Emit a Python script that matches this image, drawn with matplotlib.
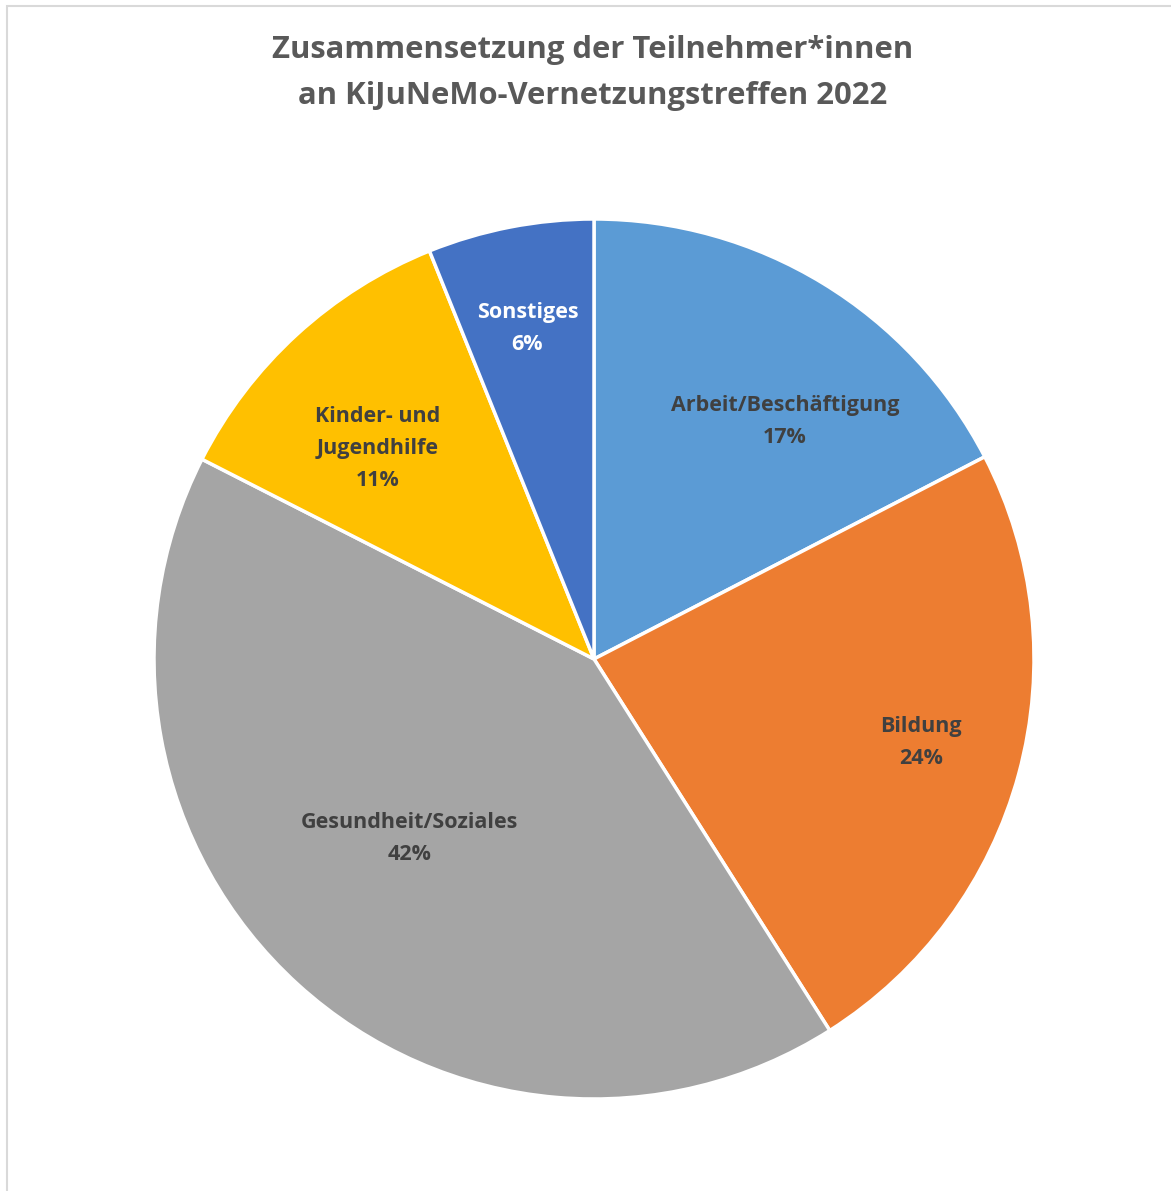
import matplotlib.pyplot as plt
from matplotlib.patches import Rectangle
import numpy as np

# data
categories = ['Arbeit/Beschäftigung', 'Bildung', 'Gesundheit/Soziales',
              'Kinder- und\nJugendhilfe', 'Sonstiges']
shares = [17.4, 23.6, 41.5, 11.4, 6.1]
pct_labels = ['17%', '24%', '42%', '11%', '6%']

colors = ['#5B9BD5', '#ED7D31', '#A5A5A5', '#FFC000', '#4472C4']
text_colors = ['#404040', '#404040', '#404040', '#404040', '#FFFFFF']
# label placement (radius fraction, angle shift from the wedge middle in degrees)
label_r = [0.692, 0.767, 0.585, 0.685, 0.767]
label_dtheta = [-7.5, 0.8, -3.6, 3.3, 0.4]

plt.rcParams['font.family'] = ['Open Sans', 'DejaVu Sans']

W, H = 1171, 1191
fig = plt.figure(figsize=(W / 100, H / 100), dpi=100)
fig.patch.set_facecolor('white')

# chart frame
fig.add_artist(Rectangle((7 / W, -0.01), 1.05, 1 - 6 / H + 0.01,
                         transform=fig.transFigure, fill=False,
                         edgecolor='#D9D9D9', linewidth=1.5))

cx, cy, r = 594, 659, 440
ax = fig.add_axes([(cx - r) / W, (H - cy - r) / H, 2 * r / W, 2 * r / H])
wedges, _ = ax.pie(shares, colors=colors, startangle=90, counterclock=False,
                   radius=1, wedgeprops=dict(edgecolor='white', linewidth=2.5))
ax.set_xlim(-1, 1)
ax.set_ylim(-1, 1)
ax.set_aspect('equal')
ax.axis('off')

for w, cat, pct, tc, lr, dt in zip(wedges, categories, pct_labels, text_colors,
                                   label_r, label_dtheta):
    mid = np.deg2rad((w.theta1 + w.theta2) / 2 + dt)
    ax.text(lr * np.cos(mid), lr * np.sin(mid), cat + '\n' + pct,
            ha='center', va='center', fontsize=15.5, fontweight='bold',
            color=tc, linespacing=1.68)

fig.text(593 / W, 1 - 73 / H,
         'Zusammensetzung der Teilnehmer*innen\nan KiJuNeMo-Vernetzungstreffen 2022',
         ha='center', va='center', fontsize=22.3, fontweight='bold',
         color='#595959', linespacing=1.7)

fig.savefig('out.png', dpi=100)
